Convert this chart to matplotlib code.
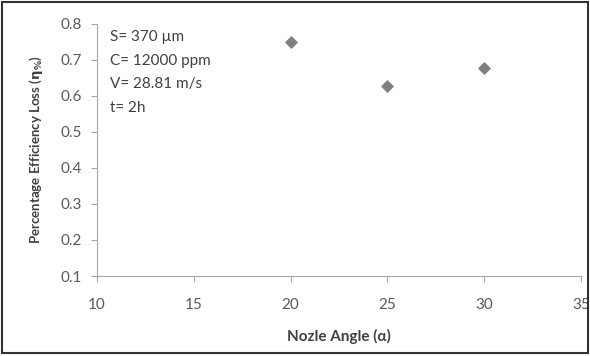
import matplotlib
matplotlib.use("Agg")
import matplotlib.pyplot as plt
from matplotlib.patches import Rectangle

# === Data ===
angles = [20, 25, 30]
eff_loss = [0.75, 0.628, 0.678]
x_ticks = [10, 15, 20, 25, 30, 35]
y_ticks = [0.1, 0.2, 0.3, 0.4, 0.5, 0.6, 0.7, 0.8]
notes = ["S= 370 µm", "C= 12000 ppm", "V= 28.81 m/s", "t= 2h"]

plt.rcParams['font.family'] = ['Lato', 'DejaVu Sans']

fig = plt.figure(figsize=(5.9, 3.56), dpi=100)
ax = fig.add_axes([0.1644, 0.2247, 0.82, 0.708])

ax.scatter(angles, eff_loss, marker='D', s=32, color='#7f7f7f', zorder=3)

ax.set_xlim(10, 35)
ax.set_ylim(0.1, 0.8)
ax.set_xticks(x_ticks)
ax.set_yticks(y_ticks)
ax.set_yticklabels([f"{v:.1f}" for v in y_ticks])

for s in ['top', 'right']:
    ax.spines[s].set_visible(False)
for s in ['left', 'bottom']:
    ax.spines[s].set_color('#a6a6a6')
ax.tick_params(colors='#a6a6a6', labelcolor='#595959', labelsize=11, length=4)
ax.tick_params(axis='x', pad=12)
ax.tick_params(axis='y', pad=7)

ax.set_xlabel("Nozle Angle (α)", fontsize=11, fontweight='bold', color='#404040', labelpad=12)
ax.set_ylabel(r"Percentage Efficiency Loss ($\mathbf{\eta_{\%}}$)", fontsize=9.5,
              fontweight='bold', color='#404040', labelpad=11)

for i, line in enumerate(notes):
    ax.text(0.027, 0.948 - i * 0.094, line, transform=ax.transAxes,
            fontsize=11, color='#404040', va='center')

# outer frame
fig.patches.append(Rectangle((0.004, 0.008), 0.993, 0.985, transform=fig.transFigure,
                             fill=False, edgecolor='#333333', linewidth=1.5))

fig.savefig("out.png", dpi=100)
